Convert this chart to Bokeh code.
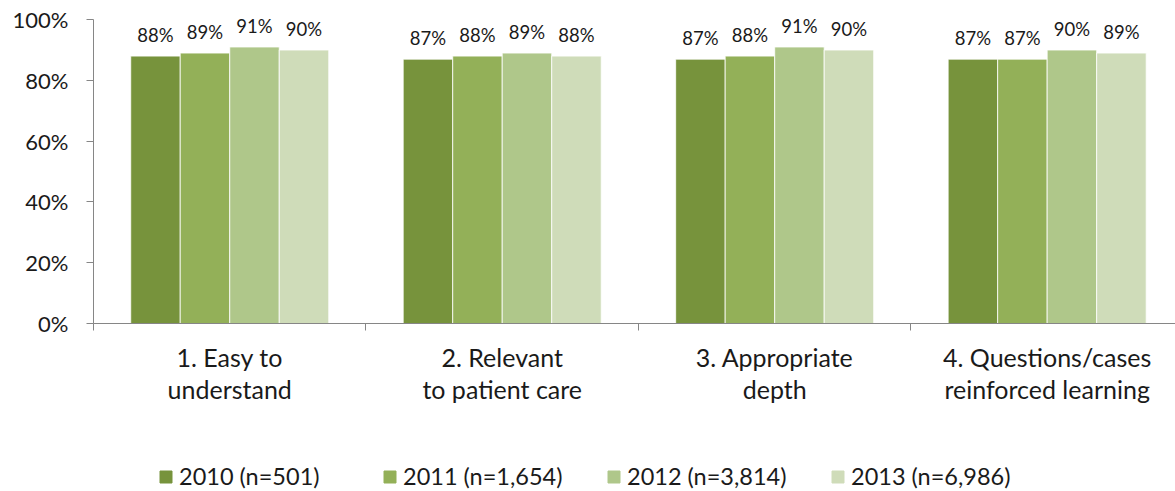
from bokeh.plotting import figure
from bokeh.models import (ColumnDataSource, Range1d, FixedTicker, PrintfTickFormatter,
                          Legend, LegendItem)
from bokeh.layouts import column
from bokeh.transform import dodge
from bokeh.core.properties import value
from bokeh.embed import file_html
from bokeh.resources import INLINE

categories = ["1. Easy to\nunderstand", "2. Relevant\nto patient care",
              "3. Appropriate\ndepth", "4. Questions/cases\nreinforced learning"]
series = ["2010 (n=501)", "2011 (n=1,654)", "2012 (n=3,814)", "2013 (n=6,986)"]
v2010 = [88, 87, 87, 87]
v2011 = [89, 88, 88, 87]
v2012 = [91, 89, 91, 90]
v2013 = [90, 88, 90, 89]
colors = ["#77933C", "#93B058", "#AFC78A", "#CFDCB9"]
y_ticks = [0, 20, 40, 60, 80, 100]

FONT = "Lato"
centers = [i + 0.5 for i in range(len(categories))]
src = ColumnDataSource(dict(x=centers, v2010=v2010, v2011=v2011, v2012=v2012, v2013=v2013,
                            l2010=[f"{v}%" for v in v2010], l2011=[f"{v}%" for v in v2011],
                            l2012=[f"{v}%" for v in v2012], l2013=[f"{v}%" for v in v2013]))

H1 = 440
p = figure(width=1175, height=H1, output_backend="svg", toolbar_location=None,
           x_range=Range1d(0, 3.971), y_range=Range1d(0, 106.3),
           min_border_left=93, min_border_right=0, min_border_top=0, min_border_bottom=H1 - 323)
p.outline_line_color = None
p.xgrid.visible = False
p.ygrid.visible = False
p.background_fill_color = "white"

# legend strip below the chart
p2 = figure(width=1175, height=491 - H1, output_backend="svg", toolbar_location=None,
            x_range=p.x_range, y_range=Range1d(1000, 1001),
            min_border_left=0, min_border_right=0, min_border_top=0, min_border_bottom=0,
            x_axis_location=None, y_axis_location=None)
p2.outline_line_color = None
p2.xgrid.visible = False
p2.ygrid.visible = False

bw = 0.1817
offsets = [-1.5 * bw, -0.5 * bw, 0.5 * bw, 1.5 * bw]
keys = ["2010", "2011", "2012", "2013"]
items = []
for k, off, c, name in zip(keys, offsets, colors, series):
    p.vbar(x=dodge("x", off, range=p.x_range), top="v" + k, width=bw, bottom=0,
           source=src, fill_color=c, line_color="white", line_width=0.8)
    p.text(x=dodge("x", off, range=p.x_range), y="v" + k, text="l" + k, source=src,
           text_align="center", text_baseline="alphabetic", y_offset=-21,
           text_font=value(FONT), text_font_size="18.5px", text_color="#1a1a1a")
    r2 = p2.vbar(x=dodge("x", off, range=p2.x_range), top="v" + k, width=bw, bottom=0,
                 source=src, fill_color=c, line_color=c)
    items.append(LegendItem(label=name, renderers=[r2]))

# y axis
ya = p.yaxis[0]
ya.ticker = FixedTicker(ticks=y_ticks)
ya.formatter = PrintfTickFormatter(format="%d%%")
ya.bounds = (0, 100)
ya.axis_line_color = "#868686"
ya.major_tick_line_color = "#868686"
ya.major_tick_out = 7
ya.major_tick_in = 0
ya.minor_tick_line_color = None
ya.major_label_standoff = 18
ya.major_label_text_font = FONT
ya.major_label_text_font_size = "22px"
ya.major_label_text_color = "#1a1a1a"

# x axis
xa = p.xaxis[0]
xa.ticker = FixedTicker(ticks=centers, minor_ticks=[0, 1, 2, 3, 4])
xa.major_label_overrides = {c: lab for c, lab in zip(centers, categories)}
xa.axis_line_color = "#868686"
xa.major_tick_line_color = None
xa.major_tick_out = 0
xa.major_tick_in = 0
xa.minor_tick_line_color = "#868686"
xa.minor_tick_out = 7
xa.minor_tick_in = 0
xa.major_label_standoff = 11
xa.major_label_text_font = FONT
xa.major_label_text_font_size = "25px"
xa.major_label_text_line_height = 1.07
xa.major_label_text_color = "#1a1a1a"
xa.major_label_text_align = "center"

legend = Legend(items=items, orientation="horizontal", location=(65, 1),
                padding=0, margin=0, border_line_color=None, background_fill_alpha=0,
                glyph_width=15, glyph_height=15, label_standoff=6, label_width=183, spacing=20,
                label_text_font=FONT, label_text_font_size="23.5px", label_text_color="#1a1a1a")
p2.add_layout(legend, "center")

layout = column(p, p2, spacing=0)
open("out.html", "w").write(file_html(layout, INLINE))
